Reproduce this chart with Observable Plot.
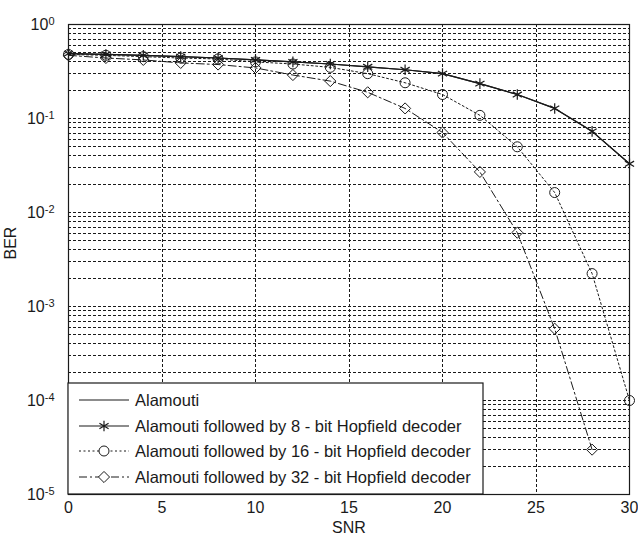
<!DOCTYPE html>
<html><head><meta charset="utf-8">
<script src="https://cdn.jsdelivr.net/npm/d3@7"></script>
<script src="https://cdn.jsdelivr.net/npm/@observablehq/plot@0.6"></script>
<style>
body{margin:0;background:#fff;}
#chart svg{display:block;}
</style>
</head><body><div id="chart"></div>
<script>
// ---- data ----
const snr = [0, 2, 4, 6, 8, 10, 12, 14, 16, 18, 20, 22, 24, 26, 28, 30];
const berAlamouti = [0.49, 0.48, 0.47, 0.455, 0.44, 0.42, 0.40, 0.38, 0.355, 0.33, 0.30, 0.235, 0.18, 0.128, 0.073, 0.033];
const ber8  = [0.49, 0.48, 0.47, 0.455, 0.44, 0.42, 0.40, 0.38, 0.355, 0.33, 0.30, 0.235, 0.18, 0.128, 0.073, 0.033];
const ber16 = [0.48, 0.47, 0.455, 0.44, 0.43, 0.40, 0.38, 0.35, 0.30, 0.24, 0.18, 0.108, 0.050, 0.0163, 0.00224, 0.0001];
const snr32 = [0, 2, 4, 6, 8, 10, 12, 14, 16, 18, 20, 22, 24, 26, 28];
const ber32 = [0.47, 0.44, 0.42, 0.39, 0.375, 0.345, 0.29, 0.25, 0.19, 0.128, 0.071, 0.027, 0.0061, 0.00058, 0.00003];
const seriesNames = [
  "Alamouti",
  "Alamouti followed by 8 - bit Hopfield decoder",
  "Alamouti followed by 16 - bit Hopfield decoder",
  "Alamouti followed by 32 - bit Hopfield decoder"
];
const xTicks = [0, 5, 10, 15, 20, 25, 30];
const xGrid = [5, 10, 15, 20, 25];
const yExponents = [0, -1, -2, -3, -4, -5];
const xLabel = "SNR";
const yLabel = "BER";

// ---- derived tables ----
const yTicks = yExponents.map(e => Math.pow(10, e));
const yGrid = [];
for (const e of yExponents.slice(1)) for (let m = 1; m <= 9; m++) yGrid.push(m * Math.pow(10, e));
const rows = (xs, ys) => xs.map((x, i) => ({x, y: ys[i]}));
const dA = rows(snr, berAlamouti), d8 = rows(snr, ber8), d16 = rows(snr, ber16), d32 = rows(snr32, ber32);

const ink = "#1a1a1a";
const font = "'Liberation Sans', Arial, Helvetica, sans-serif";
const dash16 = "2,2.5";
const dash32 = "8,3,2,3";
const gridDash = "3,2";

const plot = Plot.plot({
  width: 638, height: 540,
  marginLeft: 68, marginRight: 9, marginTop: 24, marginBottom: 46,
  style: {fontFamily: font, fontSize: "16px", background: "#fff", color: ink},
  x: {domain: [0, 30]},
  y: {type: "log", domain: [1e-5, 1]},
  marks: [
    Plot.ruleY(yGrid, {stroke: ink, strokeDasharray: gridDash, strokeWidth: 1, shapeRendering: "crispEdges"}),
    Plot.ruleX(xGrid, {stroke: ink, strokeDasharray: gridDash, strokeWidth: 1, shapeRendering: "crispEdges"}),
    Plot.frame({stroke: ink, strokeWidth: 1.2}),
    Plot.axisX(xTicks, {tickSize: 0, tickPadding: 7, label: null, fontSize: 16}),
    Plot.axisY(yTicks, {tickSize: 0, tickPadding: 14, label: null, fontSize: 16,
      tickFormat: d => "10^" + Math.round(Math.log10(d))}),
    Plot.text([xLabel], {frameAnchor: "bottom", dy: 38, fontSize: 16}),
    Plot.text([yLabel], {frameAnchor: "left", dx: -58, rotate: -90, fontSize: 16}),
    Plot.line(dA, {x: "x", y: "y", stroke: ink, strokeWidth: 1.2}),
    Plot.line(d8, {x: "x", y: "y", stroke: ink, strokeWidth: 1.2}),
    Plot.line(d16, {x: "x", y: "y", stroke: ink, strokeWidth: 1, strokeDasharray: dash16}),
    Plot.line(d32, {x: "x", y: "y", stroke: ink, strokeWidth: 1, strokeDasharray: dash32}),
    Plot.dot(d8, {x: "x", y: "y", symbol: "asterisk", r: 5, stroke: ink, strokeWidth: 1.2}),
    Plot.dot(d16, {x: "x", y: "y", symbol: "circle", r: 5, stroke: ink, fill: "none", strokeWidth: 1}),
    Plot.dot(d32, {x: "x", y: "y", symbol: "diamond2", r: 5, stroke: ink, fill: "none", strokeWidth: 1})
  ]
});
document.getElementById("chart").appendChild(plot);

// superscript exponents on y tick labels
d3.select(plot).selectAll('g[aria-label="y-axis tick label"] text').each(function() {
  const t = d3.select(this);
  const s = t.text();
  const exp = s.split("^")[1];
  t.text(null);
  t.append("tspan").text("10");
  t.append("tspan").attr("dy", "-0.45em").attr("font-size", "11px").text(exp);
});

// legend box (inside the plot area, bottom-left)
const svgSel = d3.select(plot);
const lg = svgSel.append("g").attr("font-family", font).attr("font-size", 16).attr("fill", ink)
  .attr("text-anchor", "start");
const boxL = 68, boxT = 383, boxR = 483, boxB = 494;
lg.append("rect").attr("x", boxL).attr("y", boxT).attr("width", boxR - boxL).attr("height", boxB - boxT)
  .attr("fill", "#fff").attr("stroke", ink).attr("stroke-width", 1.2);
const rowsY = [400, 426, 451, 477];
const styles = [
  {dash: null, sym: null, w: 1.2},
  {dash: null, sym: d3.symbolAsterisk, w: 1.2},
  {dash: dash16, sym: d3.symbolCircle, w: 1},
  {dash: dash32, sym: d3.symbolDiamond2, w: 1}
];
seriesNames.forEach((name, i) => {
  const yy = rowsY[i], st = styles[i];
  lg.append("line").attr("x1", 79).attr("x2", 129).attr("y1", yy).attr("y2", yy)
    .attr("stroke", ink).attr("stroke-width", st.w).attr("stroke-dasharray", st.dash);
  if (st.sym) lg.append("path").attr("d", d3.symbol(st.sym, Math.PI * 25)())
    .attr("transform", `translate(104,${yy})`).attr("fill", "#fff").attr("stroke", ink).attr("stroke-width", st.w);
  lg.append("text").attr("x", 135).attr("y", yy).attr("dy", "0.35em").attr("text-anchor", "start")
    .attr("font-size", 16.5).text(name);
});
</script>
</body></html>
